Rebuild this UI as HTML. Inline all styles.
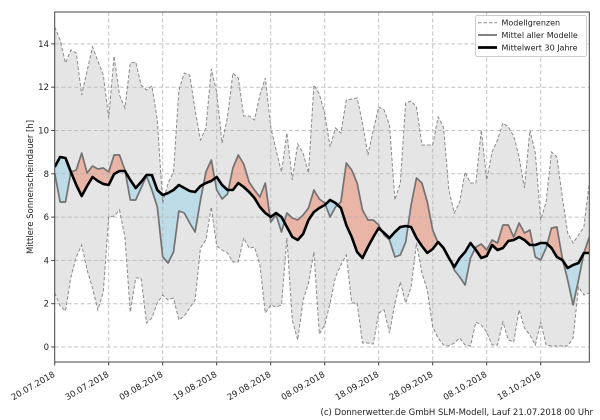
<!DOCTYPE html>
<html>
<head>
<meta charset="utf-8">
<style>
html,body{margin:0;padding:0;background:#fff;}
svg{display:block;}
text{font-family:"DejaVu Sans","Liberation Sans",sans-serif;fill:#222;}
</style>
</head>
<body>
<svg width="600" height="420" viewBox="0 0 600 420" xmlns="http://www.w3.org/2000/svg">
<defs>
<clipPath id="ax"><rect x="54.7" y="12" width="534.6" height="350"/></clipPath>
<clipPath id="aboveB"><polygon points="54.7,167 60.1,157 65.5,158 70.9,172 76.3,185 81.7,196 87.1,186 92.5,177 97.9,181 103.3,184 108.7,185 114.1,174 119.5,171 124.9,171 130.3,180 135.7,188 141.1,182 146.5,175 151.9,175 157.3,190 162.7,195 168.1,193 173.5,190 178.9,185 184.3,188 189.7,191 195.1,192 200.5,186 205.9,183 211.3,181 216.7,177 222.1,185 227.5,190 232.9,190 238.3,183 243.7,187 249.1,192 254.5,198 259.9,207 265.3,213 270.7,217 276.1,213 281.5,217 286.9,227 292.3,237 297.7,240 303.1,234 308.5,220 313.9,212 319.3,208 324.7,205 330.1,200 335.5,203 340.9,208 346.3,225 351.7,237 357.1,252 362.5,258 367.9,247 373.3,237 378.7,228 384.1,233 389.5,238 394.9,232 400.3,227 405.7,226 411.1,227 416.5,238 421.9,246 427.3,253 432.7,249 438.1,242 443.5,248 448.9,258 454.3,267 459.7,258 465.1,252 470.5,243 475.9,250 481.3,258 486.7,256 492.1,245 497.5,250 502.9,248 508.3,241 513.7,240 519.1,237 524.5,240 529.9,245 535.3,245 540.7,243 546.1,243 551.5,248 556.9,257 562.3,260 567.7,268 573.1,265 578.5,263 583.9,253 589.3,253 589.3,0 54.7,0"/></clipPath>
<clipPath id="belowB"><polygon points="54.7,167 60.1,157 65.5,158 70.9,172 76.3,185 81.7,196 87.1,186 92.5,177 97.9,181 103.3,184 108.7,185 114.1,174 119.5,171 124.9,171 130.3,180 135.7,188 141.1,182 146.5,175 151.9,175 157.3,190 162.7,195 168.1,193 173.5,190 178.9,185 184.3,188 189.7,191 195.1,192 200.5,186 205.9,183 211.3,181 216.7,177 222.1,185 227.5,190 232.9,190 238.3,183 243.7,187 249.1,192 254.5,198 259.9,207 265.3,213 270.7,217 276.1,213 281.5,217 286.9,227 292.3,237 297.7,240 303.1,234 308.5,220 313.9,212 319.3,208 324.7,205 330.1,200 335.5,203 340.9,208 346.3,225 351.7,237 357.1,252 362.5,258 367.9,247 373.3,237 378.7,228 384.1,233 389.5,238 394.9,232 400.3,227 405.7,226 411.1,227 416.5,238 421.9,246 427.3,253 432.7,249 438.1,242 443.5,248 448.9,258 454.3,267 459.7,258 465.1,252 470.5,243 475.9,250 481.3,258 486.7,256 492.1,245 497.5,250 502.9,248 508.3,241 513.7,240 519.1,237 524.5,240 529.9,245 535.3,245 540.7,243 546.1,243 551.5,248 556.9,257 562.3,260 567.7,268 573.1,265 578.5,263 583.9,253 589.3,253 589.3,420 54.7,420"/></clipPath>
</defs>

<g clip-path="url(#ax)">
<!-- gray model range fill -->
<polygon fill="#e5e5e5" points="54.7,27 60.1,40 65.5,63 70.9,50 76.3,53 81.7,95 87.1,71 92.5,47 97.9,61 103.3,75 108.7,118 114.1,56 119.5,95 124.9,108 130.3,63 135.7,62 141.1,85 146.5,90 151.9,86 157.3,120 162.7,203 168.1,183 173.5,172 178.9,90 184.3,73 189.7,75 195.1,110 200.5,140 205.9,128 211.3,69 216.7,92 222.1,143 227.5,117 232.9,73 238.3,78 243.7,116 249.1,116 254.5,120 259.9,95 265.3,78 270.7,127 276.1,150 281.5,172 286.9,133 292.3,180 297.7,144 303.1,153 308.5,173 313.9,85 319.3,94 324.7,113 330.1,147 335.5,128 340.9,133 346.3,100 351.7,99 357.1,98 362.5,123 367.9,155 373.3,130 378.7,107 384.1,110 389.5,125 394.9,200 400.3,183 405.7,103 411.1,101 416.5,107 421.9,145 427.3,145 432.7,145 438.1,117 443.5,127 448.9,190 454.3,213 459.7,202 465.1,172 470.5,183 475.9,183 481.3,130 486.7,180 492.1,152 497.5,140 502.9,123 508.3,127 513.7,136 519.1,157 524.5,188 529.9,130 535.3,153 540.7,220 546.1,202 551.5,152 556.9,157 562.3,197 567.7,233 573.1,243 578.5,235 583.9,227 589.3,183 589.3,293 583.9,295 578.5,287 573.1,338 567.7,346 562.3,346 556.9,346 551.5,346 546.1,345 540.7,322 535.3,345 529.9,335 524.5,328 519.1,310 513.7,342 508.3,340 502.9,322 497.5,345 492.1,345 486.7,332 481.3,325 475.9,322 470.5,346 465.1,345 459.7,338 454.3,343 448.9,346 443.5,345 438.1,338 432.7,327 427.3,290 421.9,273 416.5,243 411.1,287 405.7,303 400.3,282 394.9,303 389.5,333 384.1,310 378.7,313 373.3,344 367.9,343 362.5,343 357.1,303 351.7,303 346.3,255 340.9,265 335.5,277 330.1,303 324.7,325 319.3,334 313.9,252 308.5,283 303.1,300 297.7,340 292.3,320 286.9,238 281.5,305 276.1,307 270.7,305 265.3,313 259.9,265 254.5,247 249.1,248 243.7,238 238.3,262 232.9,262 227.5,253 222.1,250 216.7,246 211.3,207 205.9,240 200.5,248 195.1,300 189.7,308 184.3,316 178.9,320 173.5,298 168.1,300 162.7,295 157.3,303 151.9,318 146.5,323 141.1,278 135.7,278 130.3,312 124.9,237 119.5,210 114.1,216 108.7,217 103.3,292 97.9,310 92.5,288 87.1,270 81.7,245 76.3,257 70.9,277 65.5,311 60.1,306 54.7,293"/>

<!-- red / blue difference fills -->
<g>
<polygon id="diff" fill="#e9b5a7" clip-path="url(#aboveB)" points="54.7,173 60.1,202 65.5,202 70.9,172 76.3,170 81.7,153 87.1,173 92.5,166 97.9,169 103.3,168 108.7,172 114.1,155 119.5,155 124.9,170 130.3,200 135.7,200 141.1,188 146.5,176 151.9,190 157.3,207 162.7,257 168.1,263 173.5,252 178.9,211 184.3,213 189.7,223 195.1,232 200.5,200 205.9,172 211.3,160 216.7,190 222.1,199 227.5,194 232.9,168 238.3,155 243.7,164 249.1,182 254.5,190 259.9,197 265.3,183 270.7,222 276.1,215 281.5,232 286.9,213 292.3,218 297.7,220 303.1,215 308.5,208 313.9,190 319.3,199 324.7,203 330.1,217 335.5,207 340.9,202 346.3,163 351.7,170 357.1,183 362.5,210 367.9,220 373.3,220 378.7,225 384.1,235 389.5,240 394.9,257 400.3,255 405.7,242 411.1,205 416.5,178 421.9,183 427.3,202 432.7,230 438.1,243 443.5,247 448.9,257 454.3,270 459.7,277 465.1,285 470.5,258 475.9,247 481.3,244 486.7,250 492.1,240 497.5,243 502.9,225 508.3,225 513.7,237 519.1,223 524.5,233 529.9,230 535.3,257 540.7,260 546.1,248 551.5,228 556.9,227 562.3,258 567.7,280 573.1,305 578.5,280 583.9,253 589.3,237 589.3,253 583.9,253 578.5,263 573.1,265 567.7,268 562.3,260 556.9,257 551.5,248 546.1,243 540.7,243 535.3,245 529.9,245 524.5,240 519.1,237 513.7,240 508.3,241 502.9,248 497.5,250 492.1,245 486.7,256 481.3,258 475.9,250 470.5,243 465.1,252 459.7,258 454.3,267 448.9,258 443.5,248 438.1,242 432.7,249 427.3,253 421.9,246 416.5,238 411.1,227 405.7,226 400.3,227 394.9,232 389.5,238 384.1,233 378.7,228 373.3,237 367.9,247 362.5,258 357.1,252 351.7,237 346.3,225 340.9,208 335.5,203 330.1,200 324.7,205 319.3,208 313.9,212 308.5,220 303.1,234 297.7,240 292.3,237 286.9,227 281.5,217 276.1,213 270.7,217 265.3,213 259.9,207 254.5,198 249.1,192 243.7,187 238.3,183 232.9,190 227.5,190 222.1,185 216.7,177 211.3,181 205.9,183 200.5,186 195.1,192 189.7,191 184.3,188 178.9,185 173.5,190 168.1,193 162.7,195 157.3,190 151.9,175 146.5,175 141.1,182 135.7,188 130.3,180 124.9,171 119.5,171 114.1,174 108.7,185 103.3,184 97.9,181 92.5,177 87.1,186 81.7,196 76.3,185 70.9,172 65.5,158 60.1,157 54.7,167"/>
<use href="#diff" fill="#bddce8" clip-path="url(#belowB)"/>
</g>
<polygon fill="#bddce8" clip-path="url(#belowB)" points="54.7,173 60.1,202 65.5,202 70.9,172 76.3,170 81.7,153 87.1,173 92.5,166 97.9,169 103.3,168 108.7,172 114.1,155 119.5,155 124.9,170 130.3,200 135.7,200 141.1,188 146.5,176 151.9,190 157.3,207 162.7,257 168.1,263 173.5,252 178.9,211 184.3,213 189.7,223 195.1,232 200.5,200 205.9,172 211.3,160 216.7,190 222.1,199 227.5,194 232.9,168 238.3,155 243.7,164 249.1,182 254.5,190 259.9,197 265.3,183 270.7,222 276.1,215 281.5,232 286.9,213 292.3,218 297.7,220 303.1,215 308.5,208 313.9,190 319.3,199 324.7,203 330.1,217 335.5,207 340.9,202 346.3,163 351.7,170 357.1,183 362.5,210 367.9,220 373.3,220 378.7,225 384.1,235 389.5,240 394.9,257 400.3,255 405.7,242 411.1,205 416.5,178 421.9,183 427.3,202 432.7,230 438.1,243 443.5,247 448.9,257 454.3,270 459.7,277 465.1,285 470.5,258 475.9,247 481.3,244 486.7,250 492.1,240 497.5,243 502.9,225 508.3,225 513.7,237 519.1,223 524.5,233 529.9,230 535.3,257 540.7,260 546.1,248 551.5,228 556.9,227 562.3,258 567.7,280 573.1,305 578.5,280 583.9,253 589.3,237 589.3,253 583.9,253 578.5,263 573.1,265 567.7,268 562.3,260 556.9,257 551.5,248 546.1,243 540.7,243 535.3,245 529.9,245 524.5,240 519.1,237 513.7,240 508.3,241 502.9,248 497.5,250 492.1,245 486.7,256 481.3,258 475.9,250 470.5,243 465.1,252 459.7,258 454.3,267 448.9,258 443.5,248 438.1,242 432.7,249 427.3,253 421.9,246 416.5,238 411.1,227 405.7,226 400.3,227 394.9,232 389.5,238 384.1,233 378.7,228 373.3,237 367.9,247 362.5,258 357.1,252 351.7,237 346.3,225 340.9,208 335.5,203 330.1,200 324.7,205 319.3,208 313.9,212 308.5,220 303.1,234 297.7,240 292.3,237 286.9,227 281.5,217 276.1,213 270.7,217 265.3,213 259.9,207 254.5,198 249.1,192 243.7,187 238.3,183 232.9,190 227.5,190 222.1,185 216.7,177 211.3,181 205.9,183 200.5,186 195.1,192 189.7,191 184.3,188 178.9,185 173.5,190 168.1,193 162.7,195 157.3,190 151.9,175 146.5,175 141.1,182 135.7,188 130.3,180 124.9,171 119.5,171 114.1,174 108.7,185 103.3,184 97.9,181 92.5,177 87.1,186 81.7,196 76.3,185 70.9,172 65.5,158 60.1,157 54.7,167"/>

<!-- grid -->
<g stroke="#b4b4b4" stroke-width="1" stroke-dasharray="4,2.5" stroke-opacity="0.8" fill="none">
<line x1="54.7" y1="347" x2="589.3" y2="347"/>
<line x1="54.7" y1="303.7" x2="589.3" y2="303.7"/>
<line x1="54.7" y1="260.4" x2="589.3" y2="260.4"/>
<line x1="54.7" y1="217.1" x2="589.3" y2="217.1"/>
<line x1="54.7" y1="173.8" x2="589.3" y2="173.8"/>
<line x1="54.7" y1="130.5" x2="589.3" y2="130.5"/>
<line x1="54.7" y1="87.2" x2="589.3" y2="87.2"/>
<line x1="54.7" y1="43.9" x2="589.3" y2="43.9"/>
<line x1="108.7" y1="12" x2="108.7" y2="362"/>
<line x1="162.7" y1="12" x2="162.7" y2="362"/>
<line x1="216.7" y1="12" x2="216.7" y2="362"/>
<line x1="270.7" y1="12" x2="270.7" y2="362"/>
<line x1="324.7" y1="12" x2="324.7" y2="362"/>
<line x1="378.7" y1="12" x2="378.7" y2="362"/>
<line x1="432.7" y1="12" x2="432.7" y2="362"/>
<line x1="486.7" y1="12" x2="486.7" y2="362"/>
<line x1="540.7" y1="12" x2="540.7" y2="362"/>
</g>

<!-- model bounds (dashed) -->
<g fill="none" stroke="#8a8a8a" stroke-width="1" stroke-dasharray="3.5,2">
<polyline points="54.7,27 60.1,40 65.5,63 70.9,50 76.3,53 81.7,95 87.1,71 92.5,47 97.9,61 103.3,75 108.7,118 114.1,56 119.5,95 124.9,108 130.3,63 135.7,62 141.1,85 146.5,90 151.9,86 157.3,120 162.7,203 168.1,183 173.5,172 178.9,90 184.3,73 189.7,75 195.1,110 200.5,140 205.9,128 211.3,69 216.7,92 222.1,143 227.5,117 232.9,73 238.3,78 243.7,116 249.1,116 254.5,120 259.9,95 265.3,78 270.7,127 276.1,150 281.5,172 286.9,133 292.3,180 297.7,144 303.1,153 308.5,173 313.9,85 319.3,94 324.7,113 330.1,147 335.5,128 340.9,133 346.3,100 351.7,99 357.1,98 362.5,123 367.9,155 373.3,130 378.7,107 384.1,110 389.5,125 394.9,200 400.3,183 405.7,103 411.1,101 416.5,107 421.9,145 427.3,145 432.7,145 438.1,117 443.5,127 448.9,190 454.3,213 459.7,202 465.1,172 470.5,183 475.9,183 481.3,130 486.7,180 492.1,152 497.5,140 502.9,123 508.3,127 513.7,136 519.1,157 524.5,188 529.9,130 535.3,153 540.7,220 546.1,202 551.5,152 556.9,157 562.3,197 567.7,233 573.1,243 578.5,235 583.9,227 589.3,183"/>
<polyline points="54.7,293 60.1,306 65.5,311 70.9,277 76.3,257 81.7,245 87.1,270 92.5,288 97.9,310 103.3,292 108.7,217 114.1,216 119.5,210 124.9,237 130.3,312 135.7,278 141.1,278 146.5,323 151.9,318 157.3,303 162.7,295 168.1,300 173.5,298 178.9,320 184.3,316 189.7,308 195.1,300 200.5,248 205.9,240 211.3,207 216.7,246 222.1,250 227.5,253 232.9,262 238.3,262 243.7,238 249.1,248 254.5,247 259.9,265 265.3,313 270.7,305 276.1,307 281.5,305 286.9,238 292.3,320 297.7,340 303.1,300 308.5,283 313.9,252 319.3,334 324.7,325 330.1,303 335.5,277 340.9,265 346.3,255 351.7,303 357.1,303 362.5,343 367.9,343 373.3,344 378.7,313 384.1,310 389.5,333 394.9,303 400.3,282 405.7,303 411.1,287 416.5,243 421.9,273 427.3,290 432.7,327 438.1,338 443.5,345 448.9,346 454.3,343 459.7,338 465.1,345 470.5,346 475.9,322 481.3,325 486.7,332 492.1,345 497.5,345 502.9,322 508.3,340 513.7,342 519.1,310 524.5,328 529.9,335 535.3,345 540.7,322 546.1,345 551.5,346 556.9,346 562.3,346 567.7,346 573.1,338 578.5,287 583.9,295 589.3,293"/>
</g>

<!-- model mean -->
<polyline fill="none" stroke="#727272" stroke-width="1.7" stroke-linejoin="round" points="54.7,173 60.1,202 65.5,202 70.9,172 76.3,170 81.7,153 87.1,173 92.5,166 97.9,169 103.3,168 108.7,172 114.1,155 119.5,155 124.9,170 130.3,200 135.7,200 141.1,188 146.5,176 151.9,190 157.3,207 162.7,257 168.1,263 173.5,252 178.9,211 184.3,213 189.7,223 195.1,232 200.5,200 205.9,172 211.3,160 216.7,190 222.1,199 227.5,194 232.9,168 238.3,155 243.7,164 249.1,182 254.5,190 259.9,197 265.3,183 270.7,222 276.1,215 281.5,232 286.9,213 292.3,218 297.7,220 303.1,215 308.5,208 313.9,190 319.3,199 324.7,203 330.1,217 335.5,207 340.9,202 346.3,163 351.7,170 357.1,183 362.5,210 367.9,220 373.3,220 378.7,225 384.1,235 389.5,240 394.9,257 400.3,255 405.7,242 411.1,205 416.5,178 421.9,183 427.3,202 432.7,230 438.1,243 443.5,247 448.9,257 454.3,270 459.7,277 465.1,285 470.5,258 475.9,247 481.3,244 486.7,250 492.1,240 497.5,243 502.9,225 508.3,225 513.7,237 519.1,223 524.5,233 529.9,230 535.3,257 540.7,260 546.1,248 551.5,228 556.9,227 562.3,258 567.7,280 573.1,305 578.5,280 583.9,253 589.3,237"/>

<!-- 30-year mean -->
<polyline fill="none" stroke="#000" stroke-width="2.6" stroke-linejoin="round" points="54.7,167 60.1,157 65.5,158 70.9,172 76.3,185 81.7,196 87.1,186 92.5,177 97.9,181 103.3,184 108.7,185 114.1,174 119.5,171 124.9,171 130.3,180 135.7,188 141.1,182 146.5,175 151.9,175 157.3,190 162.7,195 168.1,193 173.5,190 178.9,185 184.3,188 189.7,191 195.1,192 200.5,186 205.9,183 211.3,181 216.7,177 222.1,185 227.5,190 232.9,190 238.3,183 243.7,187 249.1,192 254.5,198 259.9,207 265.3,213 270.7,217 276.1,213 281.5,217 286.9,227 292.3,237 297.7,240 303.1,234 308.5,220 313.9,212 319.3,208 324.7,205 330.1,200 335.5,203 340.9,208 346.3,225 351.7,237 357.1,252 362.5,258 367.9,247 373.3,237 378.7,228 384.1,233 389.5,238 394.9,232 400.3,227 405.7,226 411.1,227 416.5,238 421.9,246 427.3,253 432.7,249 438.1,242 443.5,248 448.9,258 454.3,267 459.7,258 465.1,252 470.5,243 475.9,250 481.3,258 486.7,256 492.1,245 497.5,250 502.9,248 508.3,241 513.7,240 519.1,237 524.5,240 529.9,245 535.3,245 540.7,243 546.1,243 551.5,248 556.9,257 562.3,260 567.7,268 573.1,265 578.5,263 583.9,253 589.3,253"/>
</g>

<!-- frame -->
<rect x="54.7" y="12" width="534.6" height="350" fill="none" stroke="#444" stroke-width="1"/>

<!-- ticks -->
<g stroke="#444" stroke-width="1">
<line x1="51.2" y1="347" x2="54.7" y2="347"/>
<line x1="51.2" y1="303.7" x2="54.7" y2="303.7"/>
<line x1="51.2" y1="260.4" x2="54.7" y2="260.4"/>
<line x1="51.2" y1="217.1" x2="54.7" y2="217.1"/>
<line x1="51.2" y1="173.8" x2="54.7" y2="173.8"/>
<line x1="51.2" y1="130.5" x2="54.7" y2="130.5"/>
<line x1="51.2" y1="87.2" x2="54.7" y2="87.2"/>
<line x1="51.2" y1="43.9" x2="54.7" y2="43.9"/>
<line x1="54.7" y1="362" x2="54.7" y2="365.5"/>
<line x1="108.7" y1="362" x2="108.7" y2="365.5"/>
<line x1="162.7" y1="362" x2="162.7" y2="365.5"/>
<line x1="216.7" y1="362" x2="216.7" y2="365.5"/>
<line x1="270.7" y1="362" x2="270.7" y2="365.5"/>
<line x1="324.7" y1="362" x2="324.7" y2="365.5"/>
<line x1="378.7" y1="362" x2="378.7" y2="365.5"/>
<line x1="432.7" y1="362" x2="432.7" y2="365.5"/>
<line x1="486.7" y1="362" x2="486.7" y2="365.5"/>
<line x1="540.7" y1="362" x2="540.7" y2="365.5"/>
</g>

<!-- y tick labels -->
<g font-size="8.5" text-anchor="end">
<text x="49" y="350">0</text>
<text x="49" y="306.7">2</text>
<text x="49" y="263.4">4</text>
<text x="49" y="220.1">6</text>
<text x="49" y="176.8">8</text>
<text x="49" y="133.5">10</text>
<text x="49" y="90.2">12</text>
<text x="49" y="46.9">14</text>
</g>

<!-- y axis label -->
<text font-size="8.5" text-anchor="middle" transform="translate(33,187) rotate(-90)">Mittlere Sonnenscheindauer [h]</text>

<!-- x tick labels -->
<g font-size="8.5" text-anchor="end">
<text transform="translate(55.5,376) rotate(-30)">20.07.2018</text>
<text transform="translate(109.5,376) rotate(-30)">30.07.2018</text>
<text transform="translate(163.5,376) rotate(-30)">09.08.2018</text>
<text transform="translate(217.5,376) rotate(-30)">19.08.2018</text>
<text transform="translate(271.5,376) rotate(-30)">29.08.2018</text>
<text transform="translate(325.5,376) rotate(-30)">08.09.2018</text>
<text transform="translate(379.5,376) rotate(-30)">18.09.2018</text>
<text transform="translate(433.5,376) rotate(-30)">28.09.2018</text>
<text transform="translate(487.5,376) rotate(-30)">08.10.2018</text>
<text transform="translate(541.5,376) rotate(-30)">18.10.2018</text>
</g>

<!-- legend -->
<rect x="475.5" y="15.5" width="111" height="41" rx="2" ry="2" fill="#fff" fill-opacity="0.85" stroke="#cccccc" stroke-width="1"/>
<line x1="478" y1="22.7" x2="497" y2="22.7" stroke="#8a8a8a" stroke-width="1" stroke-dasharray="3.5,2"/>
<line x1="478" y1="35" x2="497" y2="35" stroke="#727272" stroke-width="1.7"/>
<line x1="478" y1="47.5" x2="497" y2="47.5" stroke="#000" stroke-width="2.8"/>
<g font-size="8">
<text x="501.5" y="25.6">Modellgrenzen</text>
<text x="501.5" y="37.9">Mittel aller Modelle</text>
<text x="501.5" y="50.4">Mittelwert 30 Jahre</text>
</g>

<!-- footer -->
<text x="320.5" y="415" font-size="8.5" textLength="272.5" lengthAdjust="spacingAndGlyphs">(c) Donnerwetter.de GmbH SLM-Modell, Lauf 21.07.2018 00 Uhr</text>
</svg>
</body>
</html>
